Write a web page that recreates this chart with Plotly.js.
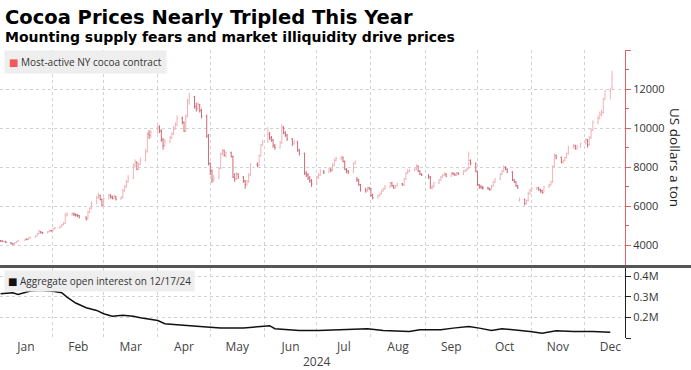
<!DOCTYPE html>
<html>
<head>
<meta charset="utf-8">
<script src="https://cdn.plot.ly/plotly-3.0.1.min.js"></script>
<style>
  html, body { margin: 0; padding: 0; background: #ffffff; }
  #chart { width: 691px; height: 370px; }
</style>
</head>
<body>
<div id="chart"></div>
<script>
// ---- Trading calendar (ICE US cocoa, 2024) ----
const firstDay = '2024-01-02';
const lastDay = '2024-12-17';
const holidays = ['2024-01-15','2024-02-19','2024-03-29','2024-05-27','2024-06-19','2024-07-04','2024-09-02','2024-11-28'];

// ---- Most-active NY cocoa contract, daily OHLC (USD / ton) ----
const priceOpen = [
  // Jan
  4250,4230,4190,4210,4150,4090,4060,4140,4200,4260,4320,4300,4380,4420,4480,4600,4720,4660,4640,4700,4760,
  // Feb
  4750,4860,4890,4960,5060,5130,5560,5600,5620,5580,5560,5530,5450,5350,5700,5900,6160,6450,6550,6350,
  // Mar
  6050,6400,6560,6480,6420,6500,6380,6460,6800,7000,7250,7450,8100,8250,7900,8150,8350,8800,9700,9620,
  // Apr
  9800,10050,9850,9400,9100,9300,9500,9700,10000,10150,10500,10300,9850,10600,11400,11600,11100,11000,11200,10900,10600,9600,
  // May
  8200,7800,7350,7450,7950,8700,8850,8600,8750,8550,7500,7400,7650,7500,7300,7100,7250,7600,8150,8100,8600,9150,
  // Jun
  9300,9700,9500,9400,9100,9000,9250,10050,9750,9650,9450,9200,9300,8850,8700,7700,7600,7450,7300,
  // Jul
  7150,7500,7600,7800,7750,7900,7850,8100,8350,8450,8500,8300,7900,7800,7750,8200,7400,7350,7100,6850,6800,6950,
  // Aug
  6900,6550,6450,6550,6650,6800,6900,7000,7200,7050,6950,7050,7150,7100,7400,7700,7800,7850,7900,8050,7800,7650,
  // Sep
  7600,7500,6950,7000,7200,7350,7500,7600,7650,7550,7700,7650,7600,7700,7650,7800,7850,7950,8350,8200,
  // Oct
  7750,7100,7000,6950,6950,6900,6850,7050,7250,7400,7650,7800,8000,7900,7750,7350,7250,7050,6300,6350,6150,6300,6650,
  // Nov
  6800,6900,6950,6850,6800,6700,7000,7100,7250,8050,8600,8500,8250,8350,8500,8700,9000,9100,8950,9050,
  // Dec
  9200,9400,9150,9500,9900,10300,10500,10700,10800,11500,11900,12100
];
const priceHigh = [
  4280,4260,4250,4230,4170,4120,4160,4230,4290,4350,4360,4400,4450,4510,4640,4800,4740,4700,4740,4800,4790,
  4900,4950,5000,5100,5200,5650,5700,5700,5680,5640,5600,5560,5480,5760,5950,6250,6550,6700,6600,6400,
  6450,6650,6620,6550,6600,6550,6520,6900,7100,7350,7600,8200,8400,8300,8250,8500,8950,9800,9900,9900,
  10200,10150,9950,9500,9450,9600,9800,10100,10300,10650,10600,10350,10700,11500,11800,11650,11300,11350,11250,11000,10700,9700,
  8250,7900,7600,8000,8750,8950,8900,8800,8800,8600,7700,7750,7700,7550,7350,7350,7700,8200,8250,8650,9200,9400,
  10050,9800,9600,9450,9200,9350,10200,10100,9850,9700,9500,9400,9350,8950,8750,7800,7700,7550,7400,
  7550,7700,7900,7850,8000,7950,8200,8450,8550,8600,8550,8350,7950,7850,8250,8350,7500,7400,7150,6950,7000,7000,
  6950,6650,6600,6700,6850,6950,7100,7250,7250,7100,7100,7200,7200,7450,7750,7900,7900,7950,8150,8100,7850,7700,
  7650,7550,7100,7250,7400,7550,7650,7750,7700,7750,7750,7700,7750,7750,7850,7900,8000,8800,8400,8250,
  7800,7150,7100,7050,7000,6950,7100,7300,7450,7700,7850,8100,8050,7950,7800,7400,7300,7100,6450,6400,6350,6750,6900,
  7000,7000,7000,6900,6850,7050,7150,7300,8100,8700,8650,8550,8400,8550,8750,9100,9200,9150,9150,9250,
  9500,9450,9600,10000,10400,10650,10850,10950,11550,11950,12050,12940
];
const priceLow = [
  4180,4170,4160,4120,4060,4030,4050,4120,4180,4240,4270,4280,4350,4400,4460,4580,4610,4600,4620,4680,4700,
  4740,4820,4870,4930,5030,5100,5480,5520,5500,5480,5450,5380,5280,5330,5650,5850,6100,6380,6300,6000,
  6000,6350,6400,6350,6380,6300,6350,6400,6750,6950,7200,7400,8000,7850,7850,8100,8300,8750,9450,9500,
  9700,9750,9300,8900,9050,9250,9450,9650,9900,10100,10200,9800,9800,10550,11200,11000,10850,10900,10800,10500,9500,8100,
  7600,7200,7250,7400,7900,8600,8550,8500,8500,7450,7250,7350,7400,7200,6900,7050,7200,7550,8000,8050,8550,9100,
  9250,9400,9300,9000,8900,8950,9200,9700,9550,9350,9100,9150,8800,8600,7600,7500,7350,7200,7000,
  7100,7400,7550,7650,7700,7750,7800,8050,8300,8350,8250,7850,7700,7650,7700,8150,7250,7050,6750,6700,6750,6850,
  6500,6350,6400,6500,6600,6750,6850,6950,7000,6900,6900,7000,7050,7050,7350,7650,7750,7800,7850,7750,7600,7550,
  7400,6900,6850,6950,7150,7300,7450,7550,7500,7500,7600,7550,7550,7600,7600,7750,7800,7900,8100,7750,
  7050,6900,6900,6850,6850,6800,6850,7000,7200,7350,7600,7750,7850,7700,7300,7200,7000,6900,6250,6050,6100,6250,6600,
  6750,6850,6800,6700,6650,6700,6950,7050,7200,8000,8400,8200,8200,8300,8450,8650,8950,8900,8900,9000,
  9150,9000,9100,9450,9850,10200,10450,10600,10750,11450,11480,11950
];
const priceClose = [
  4230,4200,4210,4150,4090,4060,4130,4200,4250,4320,4300,4380,4420,4470,4600,4720,4650,4640,4700,4760,4740,
  4850,4890,4960,5050,5120,5550,5600,5620,5580,5560,5530,5450,5350,5700,5900,6150,6450,6550,6350,6050,
  6400,6550,6480,6420,6500,6380,6450,6800,7000,7250,7450,8100,8250,7900,8150,8350,8800,9700,9620,9800,
  10050,9850,9400,9100,9300,9500,9700,10000,10150,10500,10300,9850,10600,11400,11600,11100,11000,11200,10900,10600,9600,8200,
  7800,7350,7450,7950,8700,8850,8600,8750,8550,7500,7400,7650,7500,7300,7100,7250,7600,8150,8100,8600,9150,9300,
  9700,9500,9400,9100,9000,9250,10050,9750,9650,9450,9200,9300,8850,8700,7700,7600,7450,7300,7150,
  7500,7600,7800,7750,7900,7850,8100,8350,8450,8500,8300,7900,7800,7750,8200,8300,7350,7100,6850,6800,6950,6900,
  6550,6450,6550,6650,6800,6900,7000,7200,7050,6950,7050,7150,7100,7400,7700,7800,7850,7900,8050,7800,7650,7600,
  7500,6950,7000,7200,7350,7500,7600,7650,7550,7700,7650,7600,7700,7650,7800,7850,7950,8350,8200,7800,
  7100,7000,6950,6950,6900,6850,7050,7250,7400,7650,7800,8000,7900,7750,7350,7250,7050,6950,6350,6150,6300,6650,6800,
  6900,6950,6850,6800,6700,7000,7100,7250,8050,8600,8500,8250,8350,8500,8700,9000,9100,8950,9050,9200,
  9400,9150,9500,9900,10300,10500,10700,10800,11500,11900,11950,12560
];

// ---- Aggregate open interest (contracts) ----
const oiDates = ['2024-01-02','2024-01-09','2024-01-12','2024-01-19','2024-01-24',
  '2024-02-01','2024-02-06','2024-02-09','2024-02-14','2024-02-20','2024-02-26',
  '2024-03-01','2024-03-06','2024-03-12','2024-03-18','2024-03-22',
  '2024-04-01','2024-04-05','2024-04-12','2024-04-22','2024-04-29',
  '2024-05-07','2024-05-20','2024-05-30',
  '2024-06-04','2024-06-07','2024-06-14','2024-06-21',
  '2024-07-02','2024-07-10','2024-07-19','2024-07-30',
  '2024-08-08','2024-08-23','2024-08-29',
  '2024-09-10','2024-09-17','2024-09-26',
  '2024-10-02','2024-10-09','2024-10-15','2024-10-23','2024-10-31',
  '2024-11-07','2024-11-15','2024-11-25',
  '2024-12-06','2024-12-16'];
const oiValues = [315000,320000,312000,328000,332000,
  327000,320000,299000,270000,247000,234000,
  218000,206000,211000,206000,198000,
  185000,169000,164000,156000,153000,
  148000,148000,156000,
  160000,145000,141000,137000,
  137000,140000,140000,145000,
  137000,132000,140000,
  140000,148000,156000,
  148000,137000,145000,140000,132000,
  123000,135000,132000,
  132000,128000];

// ---- Axis tick labels ----
const priceTickVals = [4000,6000,8000,10000,12000,14000];
const priceTickText = ['4000','6000','8000','10000','12000',''];
const oiTickVals = [100000,200000,300000,400000];
const oiTickText = ['','0.2M','0.3M','0.4M'];

// build trading-day list
function tradingDays(start, end, skip) {
  const out = [];
  const d = new Date(start + 'T00:00:00Z');
  const e = new Date(end + 'T00:00:00Z');
  while (d <= e) {
    const wd = d.getUTCDay();
    const s = d.toISOString().slice(0, 10);
    if (wd !== 0 && wd !== 6 && skip.indexOf(s) < 0) out.push(s);
    d.setUTCDate(d.getUTCDate() + 1);
  }
  return out;
}
const priceDates = tradingDays(firstDay, lastDay, holidays);

// ---- geometry helpers (plot area: x 0..625, y 50..338) ----
const W = 691, H = 370, mL = 0, mR = 66, mT = 50, mB = 32;
const plotW = W - mL - mR, plotH = H - mT - mB;
const px = x => (x - mL) / plotW;
const py = y => (H - mB - y) / plotH;

const font = 'Open Sans, DejaVu Sans, sans-serif';
const gridCol = '#d2d2d2';
const redAxis = '#e06464';

const traces = [
  {
    type: 'ohlc',
    x: priceDates,
    open: priceOpen, high: priceHigh, low: priceLow, close: priceClose,
    xaxis: 'x2', yaxis: 'y',
    increasing: { line: { color: '#f0b2b8', width: 1 } },
    decreasing: { line: { color: '#cc6a78', width: 1 } },
    tickwidth: 0.5,
    showlegend: false,
    hoverinfo: 'skip'
  },
  {
    type: 'scatter', mode: 'lines',
    x: oiDates, y: oiValues,
    xaxis: 'x', yaxis: 'y2',
    line: { color: '#111111', width: 1.5 },
    showlegend: false,
    hoverinfo: 'skip'
  }
];

const xRange = ['2024-01-01 16:00', '2024-12-24 10:00'];
const xCommon = {
  type: 'date',
  dtick: 'M1',
  tick0: '2024-01-01',
  showgrid: true,
  gridcolor: gridCol,
  griddash: 'dot',
  gridwidth: 1,
  zeroline: false,
  showline: false,
  ticks: ''
};

const layout = {
  width: W, height: H,
  margin: { l: mL, r: mR, t: mT, b: mB },
  paper_bgcolor: '#ffffff',
  plot_bgcolor: '#ffffff',
  showlegend: false,
  font: { family: font, color: '#333333', size: 12 },
  xaxis: Object.assign({}, xCommon, {
    anchor: 'y2',
    range: xRange,
    ticklabelmode: 'period',
    tickformat: '%b',
    tickfont: { family: font, size: 12, color: '#444444' },
    rangeslider: { visible: false }
  }),
  xaxis2: Object.assign({}, xCommon, {
    anchor: 'y',
    matches: 'x',
    showticklabels: false,
    rangeslider: { visible: false }
  }),
  yaxis: {
    domain: [py(265), 1],
    anchor: 'x2',
    side: 'right',
    range: [3000, 14000],
    tickmode: 'array',
    tickvals: priceTickVals,
    ticktext: priceTickText,
    showline: true, linecolor: redAxis, linewidth: 1,
    ticks: 'outside', ticklen: 5, tickcolor: redAxis, tickwidth: 1,
    minor: { tickmode: 'linear', tick0: 3000, dtick: 1000, ticks: 'outside', ticklen: 3, tickcolor: redAxis, showgrid: false },
    showgrid: true, gridcolor: gridCol, griddash: 'dot',
    zeroline: false,
    tickfont: { family: font, size: 11, color: '#333333' }
  },
  yaxis2: {
    domain: [0, py(268)],
    anchor: 'x',
    side: 'right',
    range: [100000, 440000],
    tickmode: 'array',
    tickvals: oiTickVals,
    ticktext: oiTickText,
    showline: true, linecolor: '#222222', linewidth: 1,
    ticks: 'outside', ticklen: 5, tickcolor: '#222222',
    showgrid: true, gridcolor: gridCol, griddash: 'dot',
    zeroline: false,
    tickfont: { family: font, size: 11, color: '#333333' }
  },
  shapes: [
    { type: 'line', xref: 'paper', yref: 'paper', x0: px(0), x1: px(691), y0: py(266.5), y1: py(266.5),
      line: { color: '#555555', width: 3 } }
  ],
  annotations: [
    { text: '<b>Cocoa Prices Nearly Tripled This Year</b>', xref: 'paper', yref: 'paper',
      x: px(3), y: py(17), xanchor: 'left', yanchor: 'middle', showarrow: false,
      font: { family: 'DejaVu Sans, sans-serif', size: 19.5, color: '#000000' } },
    { text: '<b>Mounting supply fears and market illiquidity drive prices</b>', xref: 'paper', yref: 'paper',
      x: px(3), y: py(37), xanchor: 'left', yanchor: 'middle', showarrow: false,
      font: { family: 'DejaVu Sans, sans-serif', size: 14, color: '#000000' } },
    { text: '<span style="color:#ee5a5f">■</span> Most-active NY cocoa contract', xref: 'paper', yref: 'paper',
      x: px(4), y: py(50), xanchor: 'left', yanchor: 'top', showarrow: false,
      bgcolor: '#eeeeee', borderpad: 4,
      font: { family: font, size: 10, color: '#333333' } },
    { text: '<span style="color:#111111">■</span> Aggregate open interest on 12/17/24', xref: 'paper', yref: 'paper',
      x: px(4), y: py(270), xanchor: 'left', yanchor: 'top', showarrow: false,
      bgcolor: '#eeeeee', borderpad: 3,
      font: { family: font, size: 10, color: '#333333' } },
    { text: 'US dollars a ton', xref: 'paper', yref: 'paper',
      x: px(675), y: py(157), xanchor: 'center', yanchor: 'middle', textangle: 90, showarrow: false,
      font: { family: font, size: 13.5, color: '#222222' } },
    { text: '2024', xref: 'x', yref: 'paper',
      x: '2024-07-01', y: py(361), xanchor: 'center', yanchor: 'middle', showarrow: false,
      font: { family: font, size: 12, color: '#444444' } }
  ]
};

Plotly.newPlot('chart', traces, layout, { staticPlot: true, displayModeBar: false });
</script>
</body>
</html>
